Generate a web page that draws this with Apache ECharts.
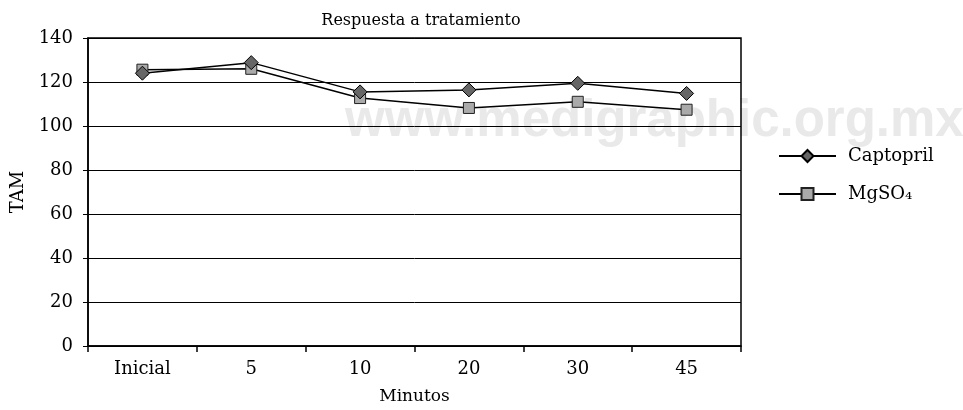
<!DOCTYPE html>
<html>
<head>
<meta charset="utf-8">
<script src="https://cdn.jsdelivr.net/npm/echarts@6/dist/echarts.min.js"></script>
<style>
html,body{margin:0;padding:0;background:#fff;}
#chart{width:963px;height:410px;}
</style>
</head>
<body>
<div id="chart"></div>
<script>
const categories = ['Inicial', '5', '10', '20', '30', '45'];
const captopril = [124, 128.8, 115.5, 116.4, 119.4, 114.8];
const mgso4 = [125.6, 126, 112.7, 108.2, 111, 107.4];
const yMin = 0, yMax = 140, yStep = 20;

const serif = '"DejaVu Serif", serif';
const chart = echarts.init(document.getElementById('chart'));
chart.setOption({
  animation: false,
  backgroundColor: '#fff',
  title: {
    text: 'Respuesta a tratamiento',
    left: 416, top: 8, textAlign: 'center',
    textStyle: { fontFamily: serif, fontSize: 16, fontWeight: 'normal', color: '#000' }
  },
  graphic: [{
    type: 'text', z: -10, left: 345, top: 96,
    style: { text: 'www.medigraphic.org.mx', font: 'bold 51px "Liberation Sans", Arial, sans-serif', fill: '#e9e9e9' }
  }],
  legend: {
    orient: 'vertical', left: 773, top: 142, itemWidth: 57, itemHeight: 15, itemGap: 20,
    textStyle: { fontFamily: serif, fontSize: 18, color: '#000', padding: [0, 0, 0, 7] },
    data: ['Captopril', 'MgSO₄']
  },
  grid: { left: 88, right: 222, top: 38, bottom: 63, show: true, borderColor: '#000', borderWidth: 1.5 },
  xAxis: {
    type: 'category', data: categories, boundaryGap: true,
    name: 'Minutos', nameLocation: 'middle', nameGap: 42,
    nameTextStyle: { fontFamily: serif, fontSize: 17, color: '#000' },
    axisLine: { lineStyle: { color: '#000', width: 1.5 } },
    axisTick: { show: true, length: 6, lineStyle: { color: '#000', width: 1.5 } },
    axisLabel: { fontFamily: serif, fontSize: 18, color: '#000', margin: 14 },
    splitLine: { show: false }
  },
  yAxis: {
    type: 'value', min: yMin, max: yMax, interval: yStep,
    name: 'TAM', nameLocation: 'middle', nameGap: 60, nameRotate: 90,
    nameTextStyle: { fontFamily: serif, fontSize: 18, color: '#000' },
    axisLine: { show: true, lineStyle: { color: '#000', width: 1.5 } },
    axisTick: { show: true, length: 5, lineStyle: { color: '#000', width: 1 } },
    axisLabel: { fontFamily: serif, fontSize: 18, color: '#000', margin: 15 },
    splitLine: { show: true, lineStyle: { color: '#000', width: 1 } }
  },
  series: [
    {
      name: 'Captopril', type: 'line', data: captopril,
      symbol: 'diamond', symbolSize: 14,
      lineStyle: { color: '#000', width: 1.5 },
      itemStyle: { color: '#666', borderColor: '#000', borderWidth: 1 },
      z: 3
    },
    {
      name: 'MgSO₄', type: 'line', data: mgso4,
      symbol: 'rect', symbolSize: 11,
      lineStyle: { color: '#000', width: 1.5 },
      itemStyle: { color: '#aaa', borderColor: '#222', borderWidth: 1 },
      z: 2
    }
  ]
});
</script>
</body>
</html>
